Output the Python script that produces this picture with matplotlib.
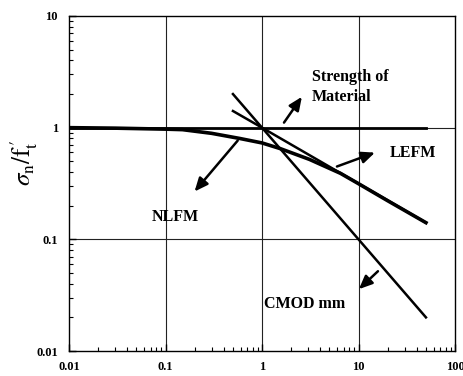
import numpy as np
import matplotlib
matplotlib.use("Agg")
import matplotlib.pyplot as plt
from matplotlib.ticker import LogLocator, NullFormatter, FixedLocator, FixedFormatter

plt.rcParams["font.family"] = ["Liberation Serif", "DejaVu Serif"]
plt.rcParams["mathtext.fontset"] = "stix"

# size effect curves (normalised nominal strength vs size)
strength_x = [0.01, 50]
strength_y = [1.0, 1.0]

lefm_x = [0.5, 1, 2, 5, 10, 20, 50]
lefm_y = [1.41, 1.0, 0.707, 0.447, 0.316, 0.224, 0.141]

nlfm_x = [0.01, 0.03, 0.1, 0.15, 0.3, 0.59, 1.0, 1.54, 3.1, 6.5, 10, 20, 50]
nlfm_y = [1.0, 0.99, 0.97, 0.96, 0.89, 0.80, 0.73, 0.65, 0.52, 0.39, 0.315, 0.222, 0.141]

cmod_x = [0.5, 1, 2, 5, 10, 20, 50]
cmod_y = [2.0, 1.0, 0.5, 0.2, 0.1, 0.05, 0.02]

xticks = [0.01, 0.1, 1, 10, 100]
xticklabels = ["0.01", "0.1", "1", "10", "100"]
yticks = [0.01, 0.1, 1, 10]
yticklabels = ["0.01", "0.1", "1", "10"]

fig = plt.figure(figsize=(4.64, 3.76), dpi=100)
ax = fig.add_axes([69 / 464, 25 / 376, 386 / 464, 335 / 376])
ax.set_xscale("log")
ax.set_yscale("log")
ax.set_xlim(0.01, 100)
ax.set_ylim(0.01, 10)

# grid
for gx in [0.1, 1, 10]:
    ax.axvline(gx, color="#222222", lw=0.8, zorder=1)
for gy in [0.1, 1]:
    ax.axhline(gy, color="#222222", lw=0.8, zorder=1)

ax.plot(strength_x, strength_y, color="black", lw=2.0, zorder=3)
ax.plot(nlfm_x, nlfm_y, color="black", lw=2.6, zorder=3)
ax.plot(lefm_x, lefm_y, color="black", lw=1.8, zorder=3)
ax.plot(cmod_x, cmod_y, color="black", lw=1.8, zorder=3)

ax.xaxis.set_major_locator(FixedLocator(xticks))
ax.xaxis.set_major_formatter(FixedFormatter(xticklabels))
ax.yaxis.set_major_locator(FixedLocator(yticks))
ax.yaxis.set_major_formatter(FixedFormatter(yticklabels))
ax.xaxis.set_minor_locator(LogLocator(base=10, subs=np.arange(2, 10)))
ax.yaxis.set_minor_locator(LogLocator(base=10, subs=np.arange(2, 10)))
ax.xaxis.set_minor_formatter(NullFormatter())
ax.yaxis.set_minor_formatter(NullFormatter())
ax.tick_params(which="both", direction="in", top=False, right=False)
ax.tick_params(which="major", length=5, width=1)
ax.tick_params(which="minor", length=3, width=0.8)
ax.tick_params(axis="x", pad=7, labelsize=9)
ax.tick_params(axis="y", pad=8, labelsize=9)
for lab in ax.get_xticklabels() + ax.get_yticklabels():
    lab.set_fontweight("bold")
for sp in ax.spines.values():
    sp.set_linewidth(1.0)

ax.set_ylabel(r"$\sigma_{\rm n}/{\rm f}^{\,\prime}_{\rm t}$", fontsize=18)
ax.yaxis.set_label_coords(-0.075, 0.56)

arrow = dict(arrowstyle="-|>,head_length=0.8,head_width=0.35", color="black", lw=1.8,
             shrinkA=0, shrinkB=0)
tfont = dict(fontsize=11.5, fontweight="bold", family=["Liberation Serif"])

ax.annotate("", xy=(0.20, 0.268), xytext=(0.56, 0.766), arrowprops=arrow)
ax.text(0.125, 0.157, "NLFM", ha="center", va="center", **tfont)

ax.annotate("", xy=(2.59, 1.89), xytext=(1.69, 1.11), arrowprops=arrow)
ax.text(3.3, 2.3, "Strength of\nMaterial", ha="left", va="center",
        multialignment="left", linespacing=1.3, **tfont)

ax.annotate("", xy=(14.8, 0.598), xytext=(5.98, 0.449), arrowprops=arrow)
ax.text(21.2, 0.598, "LEFM", ha="left", va="center", **tfont)

ax.annotate("", xy=(10.1, 0.0358), xytext=(15.9, 0.0518), arrowprops=arrow)
ax.text(1.05, 0.0263, "CMOD mm", ha="left", va="center", **tfont)

fig.savefig("out.png", dpi=100)
